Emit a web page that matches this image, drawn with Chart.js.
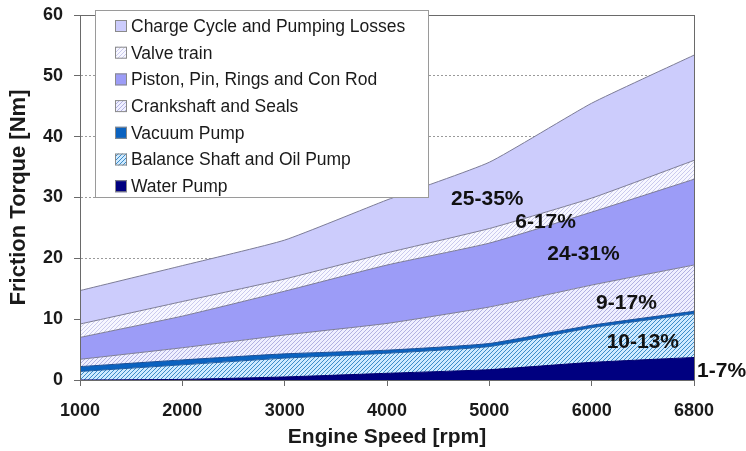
<!DOCTYPE html>
<html>
<head>
<meta charset="utf-8">
<script src="https://cdn.jsdelivr.net/npm/chart.js@4/dist/chart.umd.min.js"></script>
<style>
  html, body { margin: 0; padding: 0; background: #fff; }
  #wrap { width: 746px; height: 451px; }
</style>
</head>
<body>
<div id="wrap"><canvas id="frictionChart" width="746" height="451"></canvas></div>
<script>
// engine speeds (evenly spaced categories on the x axis)
const speeds = ["1000", "2000", "3000", "4000", "5000", "6000", "6800"];

// friction torque per component [Nm], bottom of the stack first
const waterPump = [0, 0.1, 0.5, 1.1, 1.7, 2.9, 3.7];
const balanceShaft = [1.4, 2.4, 3.1, 3.3, 3.8, 5.7, 7.2];
const vacuumPump = [0.8, 0.8, 0.7, 0.5, 0.5, 0.4, 0.4];
const crankshaft = [1.2, 2.0, 3.1, 4.4, 6.0, 6.6, 7.6];
const piston = [3.6, 5.2, 7.2, 9.6, 10.5, 12.0, 14.1];
const valveTrain = [2.2, 2.4, 2.0, 2.0, 2.4, 2.3, 3.1];
const chargeCycle = [5.5, 5.9, 6.4, 8.7, 10.9, 15.6, 17.3];

const yTicks = [0, 10, 20, 30, 40, 50, 60];

// share labels written on the bands
const shareLabels = ["25-35%", "6-17%", "24-31%", "9-17%", "10-13%", "1-7%"];
const shareAt = [
  [3.98, 29.8], [4.55, 25.9], [4.92, 20.6], [5.34, 12.7], [5.5, 6.2], [6.03, 1.4]
];

Chart.defaults.font.family = "'Liberation Sans', Arial, sans-serif";

function hatch(bg, line, size) {
  const c = document.createElement("canvas");
  c.width = size;
  c.height = size;
  const g = c.getContext("2d");
  g.fillStyle = bg;
  g.fillRect(0, 0, size, size);
  g.strokeStyle = line;
  g.lineWidth = 1;
  g.beginPath();
  g.moveTo(0, size); g.lineTo(size, 0);
  g.moveTo(-1, 1); g.lineTo(1, -1);
  g.moveTo(size - 1, size + 1); g.lineTo(size + 1, size - 1);
  g.stroke();
  return g.createPattern(c, "repeat");
}

const ctx = document.getElementById("frictionChart").getContext("2d");

const edge = "#7c7c96";
const series = [
  { label: "Water Pump", data: waterPump, bg: "#000080", border: "#000070" },
  { label: "Balance Shaft and Oil Pump", data: balanceShaft, bg: hatch("#cfeaff", "#3d8cc8", 4), border: "#1d5aa0" },
  { label: "Vacuum Pump", data: vacuumPump, bg: "#0a62c0", border: "#1d4f95" },
  { label: "Crankshaft and Seals", data: crankshaft, bg: hatch("#efefff", "#b2b2e2", 4), border: edge },
  { label: "Piston, Pin, Rings and Con Rod", data: piston, bg: "#9c9cf7", border: edge },
  { label: "Valve train", data: valveTrain, bg: hatch("#f7f7ff", "#cacaee", 4), border: edge },
  { label: "Charge Cycle and Pumping Losses", data: chargeCycle, bg: "#ccccfc", border: edge }
];

const datasets = series.map((s, i) => ({
  label: s.label,
  data: s.data,
  backgroundColor: s.bg,
  borderColor: s.border,
  borderWidth: 1,
  pointRadius: 0,
  tension: 0.15,
  fill: i === 0 ? "origin" : "-1"
}));

const framePlugin = {
  id: "frame",
  afterDatasetsDraw(chart) {
    const a = chart.chartArea;
    const c = chart.ctx;
    c.save();
    c.strokeStyle = "#6a6a6a";
    c.lineWidth = 1;
    c.strokeRect(a.left + 0.5, a.top + 0.5, a.right - a.left, a.bottom - a.top);
    c.restore();
  }
};

const shareLabelPlugin = {
  id: "shareLabels",
  afterDatasetsDraw(chart) {
    const c = chart.ctx;
    const xs = chart.scales.x;
    const ys = chart.scales.y;
    c.save();
    c.font = "bold 21px 'Liberation Sans', Arial, sans-serif";
    c.fillStyle = "#111";
    c.textBaseline = "middle";
    shareLabels.forEach((t, i) => {
      const px = xs.getPixelForValue(shareAt[i][0]);
      const py = ys.getPixelForValue(shareAt[i][1]);
      c.textAlign = i === shareLabels.length - 1 ? "left" : "center";
      c.fillText(t, px, py);
    });
    c.restore();
  }
};

const boxLegendPlugin = {
  id: "boxLegend",
  afterDraw(chart) {
    const c = chart.ctx;
    const a = chart.chartArea;
    const x0 = a.left + 15, y0 = a.top - 5, w = 333, h = 187;
    c.save();
    c.fillStyle = "#fff";
    c.fillRect(x0, y0, w, h);
    c.strokeStyle = "#9a9a9a";
    c.lineWidth = 1;
    c.strokeRect(x0 + 0.5, y0 + 0.5, w, h);
    c.font = "17.5px 'Liberation Sans', Arial, sans-serif";
    c.textBaseline = "middle";
    c.textAlign = "left";
    const items = chart.data.datasets.slice().reverse();
    items.forEach((ds, i) => {
      const cy = y0 + 16 + i * 26.7;
      c.fillStyle = ds.backgroundColor;
      c.fillRect(x0 + 20, cy - 6, 12, 12);
      c.strokeStyle = "#8a8a8a";
      c.strokeRect(x0 + 20.5, cy - 5.5, 11, 11);
      c.fillStyle = "#1a1a1a";
      c.fillText(ds.label, x0 + 36, cy + 1);
    });
    c.restore();
  }
};

new Chart(ctx, {
  type: "line",
  data: { labels: speeds, datasets: datasets },
  options: {
    responsive: false,
    animation: false,
    layout: { padding: { top: 15, right: 52, bottom: 0, left: 0 } },
    plugins: {
      legend: { display: false },
      tooltip: { enabled: false }
    },
    scales: {
      x: {
        afterFit: (scale) => { scale.height = 71; },
        grid: { drawOnChartArea: false, tickLength: 6, tickColor: "#6a6a6a" },
        border: { color: "#6a6a6a" },
        ticks: {
          color: "#1a1a1a",
          padding: 14,
          font: { size: 18, weight: "bold" },
          maxRotation: 0
        },
        title: {
          display: true,
          text: "Engine Speed [rpm]",
          color: "#1a1a1a",
          font: { size: 21, weight: "bold" },
          padding: { top: 0, bottom: 1 }
        }
      },
      y: {
        stacked: true,
        min: 0,
        max: 60,
        afterFit: (scale) => {
          scale.width = 80;
          scale.paddingTop = 0;
          scale.paddingBottom = 0;
        },
        afterBuildTicks: (scale) => { scale.ticks = yTicks.map((v) => ({ value: v })); },
        grid: {
          tickLength: 6,
          tickColor: "#6a6a6a",
          color: (c) => (c.tick && c.tick.value > 0 && c.tick.value < 60 ? "#9a9a9a" : "rgba(0,0,0,0)")
        },
        border: { color: "#6a6a6a", dash: [2, 2] },
        ticks: {
          color: "#1a1a1a",
          padding: 11,
          font: { size: 18, weight: "bold" }
        },
        title: {
          display: true,
          text: "Friction Torque [Nm]",
          color: "#1a1a1a",
          font: { size: 22, weight: "bold" },
          padding: { top: 6, bottom: 0 }
        }
      }
    }
  },
  plugins: [framePlugin, shareLabelPlugin, boxLegendPlugin]
});
</script>
</body>
</html>
